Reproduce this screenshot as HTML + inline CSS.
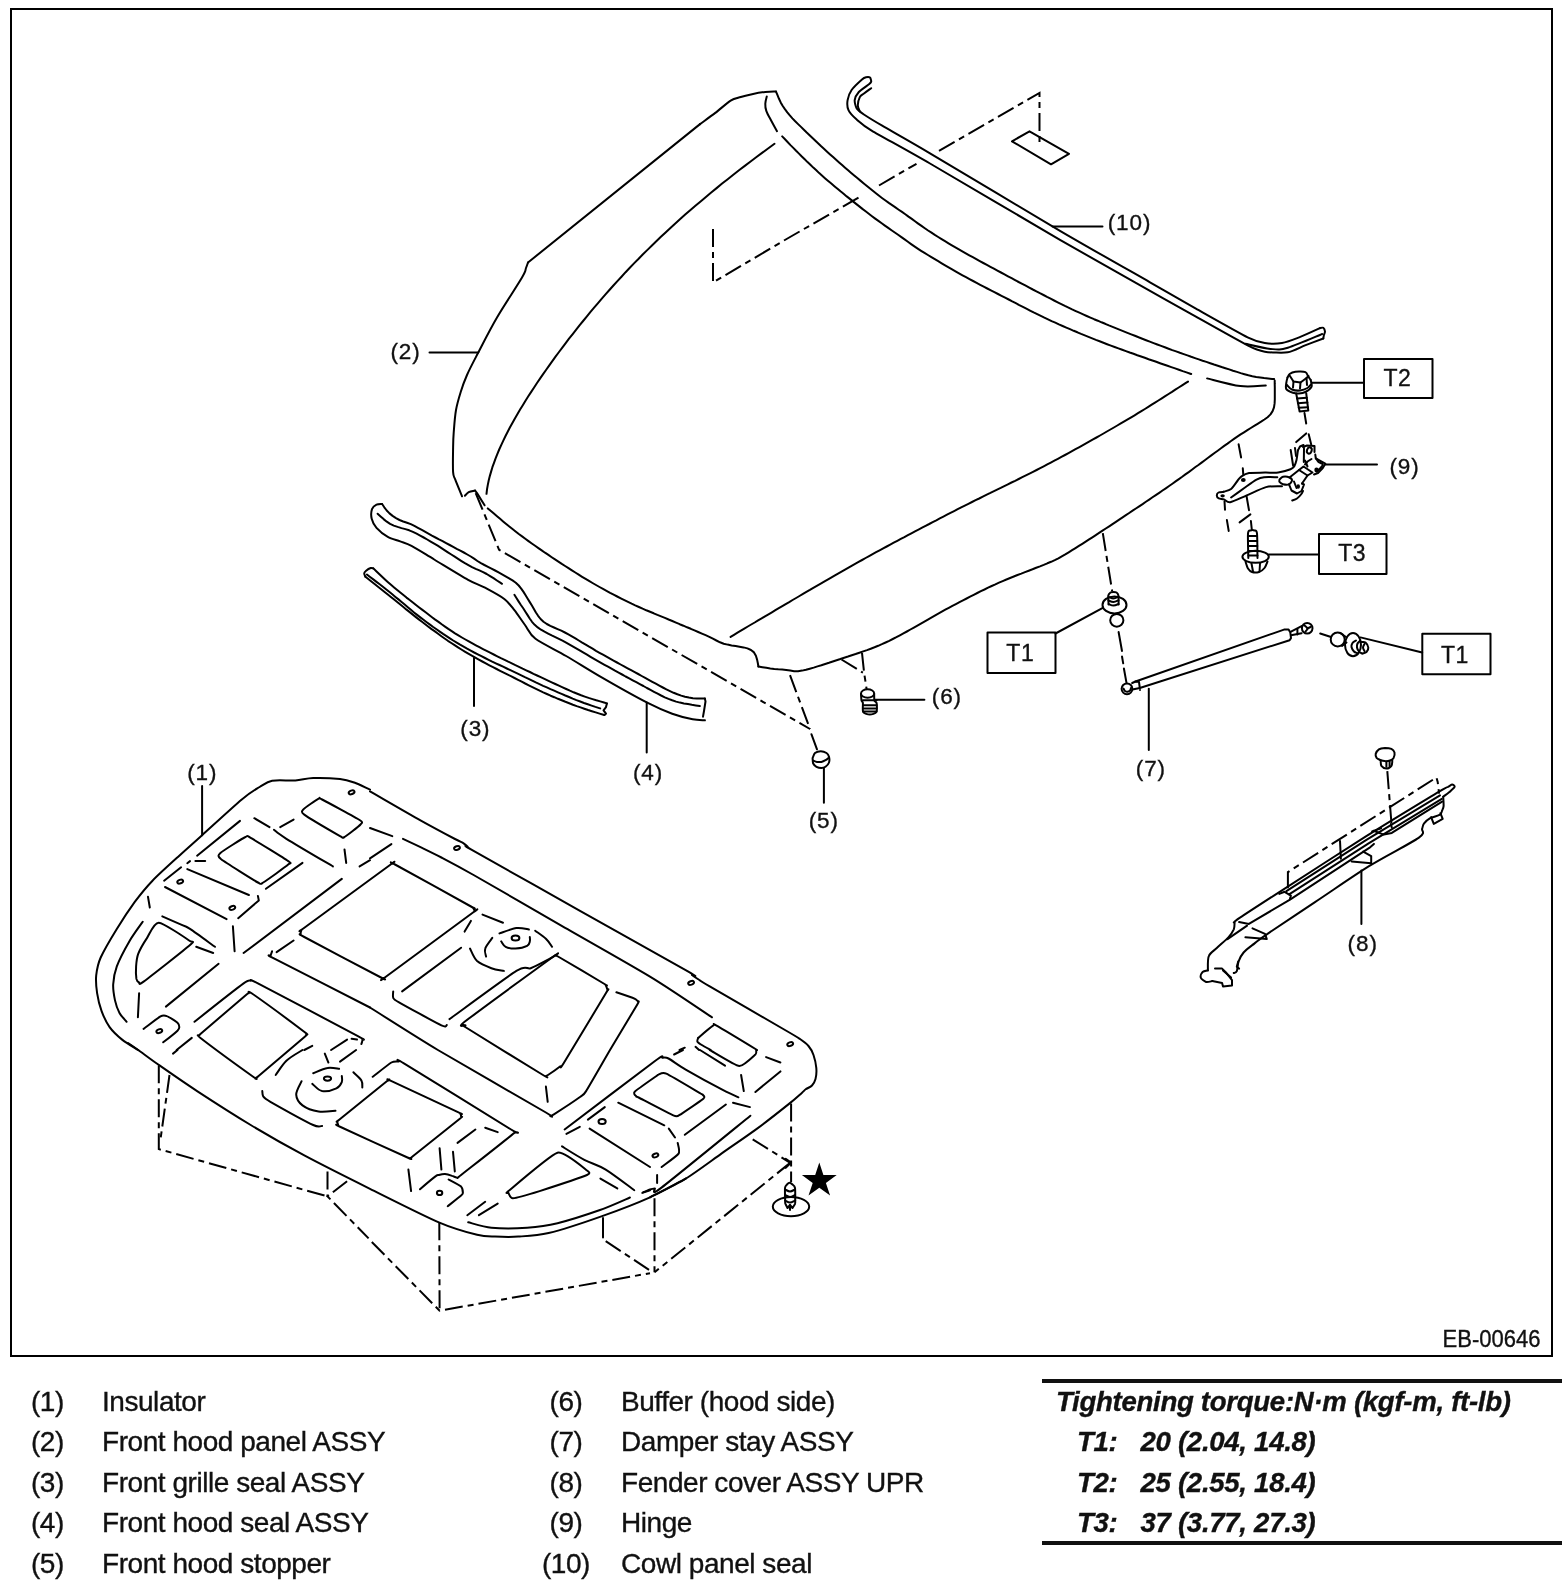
<!DOCTYPE html>
<html><head><meta charset="utf-8"><title>Front hood</title>
<style>
html,body{margin:0;padding:0;background:#fff;}
body{width:1568px;height:1592px;overflow:hidden;position:relative;font-family:"Liberation Sans",sans-serif;}
svg{position:absolute;left:0;top:0;will-change:transform;}
.l{fill:none;stroke:#000;stroke-width:2;stroke-linecap:round;stroke-linejoin:round;}
.d{fill:none;stroke:#000;stroke-width:2;stroke-dasharray:18 5 6 5;}
.f{fill:#000;stroke:none;}
.t text{font-family:"Liberation Sans",sans-serif;fill:#111;stroke:#111;stroke-width:0.35;}
</style></head><body>
<svg width="1568" height="1592" viewBox="0 0 1568 1592">
<rect x="11" y="9" width="1541" height="1347" fill="none" stroke="#000" stroke-width="2"/>
<g class="t" font-size="28" letter-spacing="-0.45">
<text x="31" y="1411">(1)</text><text x="102" y="1411">Insulator</text>
<text x="31" y="1451">(2)</text><text x="102" y="1451">Front hood panel ASSY</text>
<text x="31" y="1492">(3)</text><text x="102" y="1492">Front grille seal ASSY</text>
<text x="31" y="1532">(4)</text><text x="102" y="1532">Front hood seal ASSY</text>
<text x="31" y="1573">(5)</text><text x="102" y="1573">Front hood stopper</text>
<g text-anchor="middle">
<text x="566" y="1411">(6)</text><text x="566" y="1451">(7)</text><text x="566" y="1492">(8)</text><text x="566" y="1532">(9)</text><text x="566" y="1573">(10)</text>
</g>
<text x="621" y="1411">Buffer (hood side)</text>
<text x="621" y="1451">Damper stay ASSY</text>
<text x="621" y="1492">Fender cover ASSY UPR</text>
<text x="621" y="1532">Hinge</text>
<text x="621" y="1573">Cowl panel seal</text>
</g>
<rect x="1042" y="1379" width="520" height="4" fill="#111"/>
<rect x="1042" y="1541" width="520" height="4" fill="#111"/>
<g class="t" font-size="27.6" font-weight="bold" font-style="italic" letter-spacing="-0.3">
<text x="1056" y="1411">Tightening torque:N·m (kgf-m, ft-lb)</text>
<text x="1077" y="1451">T1:</text><text x="1140.5" y="1451">20 (2.04, 14.8)</text>
<text x="1077" y="1492">T2:</text><text x="1140.5" y="1492">25 (2.55, 18.4)</text>
<text x="1077" y="1532">T3:</text><text x="1140.5" y="1532">37 (3.77, 27.3)</text>
</g>
<g class="t" font-size="22" id="lbl">
<text x="1442.5" y="1347" font-size="23.5" textLength="98" lengthAdjust="spacingAndGlyphs">EB-00646</text>
</g>
<path class="l" d="M776 91.6 C774.4 91.6 768.9 91.5 765.3 91.9 C761.7 92.3 755.7 93.4 752 94.2 C748.3 95 744 96 740.8 97 C737.6 98 734.4 98.2 730.6 100.6 C726.8 103 719.9 109.4 715.3 112.9 C710.7 116.4 702.3 122.4 700 124.1"/>
<path class="l" d="M700 124.1 L528 262.5"/>
<path class="l" d="M528 262.5 C527.7 263.4 527 265.5 526 268 C525 270.5 526.8 269.2 522 277.5 C517.2 285.8 504.3 305 497 317.5 C489.7 330 483.3 342.9 478.3 352.5 C473.3 362.1 469.9 368.4 467 375 C464.1 381.6 462.5 386.2 460.7 392 C458.9 397.8 457.2 403.2 456 410 C454.8 416.8 454.2 426.3 453.7 432.6 C453.2 438.9 453.2 441.3 453.1 447.9 C453 454.5 452.7 466.8 453.1 472.1 C453.5 477.4 453.8 475.7 455.3 479.7 C456.8 483.7 460.9 493.5 462 496.3"/>
<path class="l" d="M464.9 495.7 C465.4 495.2 467.3 492.9 468.7 492.2 C470.1 491.5 474.2 490.8 475.1 490.6"/>
<path class="l" d="M475.1 490.6 L477 493.1 L484.6 505.3"/>
<path class="l" d="M487.8 508.4 L490.9 511 L493.9 513.6 L497 516.2 L500.1 518.8 L503.1 521.4 L506.2 524 L509.3 526.5 L512.5 529 L515.6 531.5 L518.8 534 L522.1 536.4 L525.3 538.8 L528.5 541.1 L531.8 543.5 L535.1 545.8 L538.4 548.1 L541.7 550.4 L545 552.7 L548.4 554.9 L551.7 557.2 L555 559.4 L558.4 561.6 L561.8 563.9 L565.1 566 L568.5 568.2 L571.9 570.4 L575.3 572.5 L578.7 574.7 L582.1 576.8 L585.6 578.9 L589 580.9 L592.5 583 L596 585 L599.5 587 L603 588.9 L606.5 590.8 L610.1 592.8 L613.6 594.6 L617.2 596.5 L620.8 598.3 L624.4 600.1 L628 601.9 L631.6 603.7 L635.2 605.4 L638.9 607 L642.6 608.7 L646.3 610.3 L650 611.8 L653.7 613.3 L657.4 614.9 L661.1 616.4 L664.9 617.9 L668.6 619.5 L672.3 621 L676 622.6 L679.7 624.2 L683.4 625.7 L687.1 627.3 L690.8 628.8 L694.5 630.4 L698.2 632 L701.9 633.6 L705.6 635.2 L709.3 636.8 L712.9 638.6 L716.4 640.5 L720 642.3 L723.7 643.7 L727.6 644.6 L731.6 645.4 L735.6 646 L739.5 646.7 L743.5 647.4 L747.4 648.4 L751 650 L754 652.4 L755.9 655.8 L757.1 659.6 L757.9 663.5 L758.4 666.5"/>
<path class="l" d="M758.4 666.5 L762.4 667.2 L766.3 667.8 L770.3 668.4 L774.3 668.9 L778.2 669.3 L782.2 669.6 L786.2 670 L790.2 670.6 L794.1 671.2 L798.1 671.2 L802.1 670.6 L806 669.7 L809.8 668.7 L813.7 667.6 L817.5 666.4 L821.4 665.3 L825.2 664 L829 662.8 L832.8 661.5 L836.6 660.2 L840.4 659 L844.2 657.7 L848 656.5 L851.8 655.2 L855.6 654 L859.4 652.7 L863.2 651.4 L867 650.1 L870.8 648.7 L874.5 647.3 L878.2 645.8 L881.9 644.2 L885.6 642.5 L889.2 640.8 L892.8 639 L896.4 637.2 L899.9 635.3 L903.4 633.4 L906.9 631.5 L910.4 629.5 L913.9 627.6 L917.4 625.6 L920.9 623.6 L924.4 621.6 L927.9 619.6 L931.3 617.6 L934.8 615.6 L938.3 613.7 L941.8 611.7 L945.3 609.7 L948.8 607.8 L952.4 605.9 L955.9 604.1 L959.5 602.2 L963 600.3 L966.6 598.5 L970.1 596.7 L973.7 594.8 L977.3 593 L980.9 591.2 L984.5 589.5 L988.1 587.7 L991.7 586 L995.4 584.4 L999 582.7 L1002.7 581.1 L1006.4 579.5 L1010.1 578 L1013.8 576.5 L1017.5 575 L1021.3 573.6 L1025 572.1 L1028.7 570.7 L1032.5 569.3 L1036.2 567.8 L1040 566.4 L1043.7 564.9 L1047.4 563.3 L1051.1 561.8 L1054.8 560.2 L1058.4 558.4 L1061.8 556.4 L1065.3 554.4 L1068.7 552.3 L1072.1 550.2 L1075.5 548.1 L1078.9 545.9 L1082.3 543.8 L1085.7 541.6 L1089.1 539.4 L1092.4 537.3 L1095.8 535.1 L1099.1 532.9 L1102.5 530.7 L1105.8 528.5 L1109.2 526.3 L1112.5 524.1 L1115.9 521.8 L1119.2 519.6 L1122.6 517.4 L1125.9 515.2 L1129.2 513 L1132.6 510.7 L1135.9 508.5 L1139.2 506.3 L1142.6 504.1 L1145.9 501.8 L1149.2 499.6 L1152.5 497.3 L1155.8 495.1 L1159.2 492.8 L1162.5 490.5 L1165.8 488.3 L1169.1 486 L1172.4 483.7 L1175.6 481.4 L1178.9 479.1 L1182.2 476.8 L1185.4 474.4 L1188.7 472.1 L1191.9 469.7 L1195.1 467.3 L1198.4 465 L1201.6 462.6 L1204.8 460.2 L1208.1 457.8 L1211.3 455.4 L1214.5 453 L1217.7 450.7 L1221 448.3 L1224.2 445.9 L1227.5 443.6 L1230.7 441.2 L1234 438.9 L1237.3 436.7 L1240.6 434.4 L1244 432.3 L1247.4 430.1 L1250.8 428 L1254.2 425.9 L1257.6 423.8 L1261.1 421.7 L1264.4 419.5 L1267.6 417.2 L1270.5 414.4 L1272.6 411.1 L1274 407.4 L1274.6 403.4 L1274.8 399.4 L1274.8 395.4 L1274.8 391.4 L1274.8 387.4 L1274.7 383.4 L1274.7 380.4"/>
<path class="l" d="M776 91.6 L777.5 95.2 L779 98.8 L780.7 102.4 L782.6 105.8 L784.9 109.1 L787.3 112.3 L789.8 115.4 L792.4 118.4 L795.2 121.3 L798.1 124.1 L801 126.9 L803.9 129.7 L806.7 132.5 L809.6 135.2 L812.5 138 L815.4 140.8 L818.3 143.5 L821.2 146.3 L824.2 149 L827.1 151.7 L830.1 154.4 L833.1 157.1 L836.1 159.8 L839.1 162.4 L842.1 165.1 L845.1 167.7 L848.1 170.3 L851.2 172.9 L854.2 175.5 L857.3 178.1 L860.4 180.6 L863.5 183.2 L866.6 185.7 L869.7 188.3 L872.8 190.8 L875.9 193.3 L879.1 195.8 L882.3 198.2 L885.5 200.5 L888.8 202.9 L892.1 205.1 L895.4 207.4 L898.7 209.7 L902 211.9 L905.3 214.2 L908.5 216.6 L911.8 218.9 L915 221.3 L918.2 223.6 L921.5 225.9 L924.8 228.2 L928.1 230.5 L931.5 232.7 L934.8 234.9 L938.2 237 L941.6 239.1 L945 241.2 L948.5 243.3 L951.9 245.3 L955.4 247.3 L958.9 249.3 L962.3 251.3 L965.8 253.3 L969.3 255.3 L972.8 257.2 L976.3 259.2 L979.8 261.1 L983.3 263 L986.9 264.9 L990.4 266.8 L993.9 268.7 L997.4 270.6 L1001 272.5 L1004.5 274.4 L1008 276.3 L1011.6 278.2 L1015.1 280.1 L1018.6 282 L1022.2 283.8 L1025.7 285.7 L1029.3 287.6 L1032.8 289.5 L1036.4 291.3 L1039.9 293.2 L1043.5 295 L1047 296.9 L1050.6 298.7 L1054.1 300.5 L1057.7 302.3 L1061.3 304.1 L1064.9 305.9 L1068.5 307.6 L1072.1 309.4 L1075.8 311.1 L1079.4 312.7 L1083.1 314.4 L1086.7 316 L1090.4 317.6 L1094.1 319.2 L1097.8 320.7 L1101.5 322.3 L1105.2 323.8 L1108.9 325.4 L1112.6 326.9 L1116.3 328.4 L1120 329.9 L1123.7 331.4 L1127.4 332.9 L1131.2 334.4 L1134.9 335.8 L1138.6 337.3 L1142.3 338.7 L1146.1 340.2 L1149.8 341.6 L1153.6 343.1 L1157.3 344.5 L1161.1 345.9 L1164.8 347.3 L1168.6 348.7 L1172.3 350.1 L1176.1 351.4 L1179.9 352.8 L1183.7 354.1 L1187.4 355.4 L1191.2 356.8 L1195 358.1 L1198.8 359.4 L1202.6 360.7 L1206.4 361.9 L1210.2 363.2 L1214 364.5 L1217.8 365.7 L1221.6 367 L1225.4 368.2 L1229.2 369.4 L1233 370.7 L1236.9 371.9 L1240.7 373.1 L1244.5 374.2 L1248.4 375.3 L1252.3 376.2 L1256.2 377 L1260.2 377.6 L1264.1 378.1 L1268.1 378.5 L1272.1 378.9 L1274.1 379.1"/>
<path class="l" d="M782.2 136.4 L785 139.3 L787.8 142.2 L790.5 145.1 L793.3 147.9 L796.1 150.8 L799 153.6 L801.8 156.5 L804.7 159.3 L807.5 162.1 L810.4 164.8 L813.3 167.6 L816.3 170.3 L819.2 173.1 L822.2 175.7 L825.2 178.4 L828.2 181 L831.3 183.6 L834.4 186.2 L837.5 188.7 L840.5 191.3 L843.6 193.8 L846.7 196.4 L849.9 198.9 L853 201.4 L856.1 203.9 L859.3 206.4 L862.4 208.9 L865.6 211.3 L868.8 213.7 L872 216.2 L875.2 218.6 L878.4 220.9 L881.7 223.3 L884.9 225.6 L888.2 227.9 L891.5 230.2 L894.8 232.5 L898.1 234.8 L901.4 237.1 L904.6 239.4 L907.9 241.8 L911.1 244.1 L914.4 246.4 L917.7 248.6 L921.1 250.8 L924.5 252.9 L927.9 255 L931.4 257.1 L934.8 259.2 L938.2 261.2 L941.7 263.3 L945.1 265.3 L948.6 267.3 L952.1 269.3 L955.5 271.3 L959 273.3 L962.5 275.3 L966 277.2 L969.5 279.1 L973.1 281 L976.6 282.9 L980.2 284.8 L983.7 286.6 L987.3 288.5 L990.9 290.3 L994.4 292.1 L998 294 L1001.5 295.8 L1005.1 297.7 L1008.7 299.5 L1012.2 301.4 L1015.8 303.2 L1019.3 305.1 L1022.9 306.9 L1026.4 308.7 L1030 310.6 L1033.6 312.4 L1037.2 314.1 L1040.8 315.9 L1044.4 317.7 L1048 319.4 L1051.6 321.1 L1055.3 322.7 L1058.9 324.4 L1062.6 326 L1066.3 327.6 L1070 329.2 L1073.7 330.8 L1077.4 332.3 L1081.1 333.9 L1084.8 335.4 L1088.5 336.9 L1092.2 338.4 L1095.9 339.9 L1099.6 341.3 L1103.4 342.8 L1107.1 344.2 L1110.9 345.6 L1114.6 347 L1118.4 348.4 L1122.2 349.8 L1125.9 351.1 L1129.7 352.5 L1133.5 353.8 L1137.3 355.2 L1141.1 356.5 L1144.8 357.8 L1148.6 359.2 L1152.4 360.5 L1156.2 361.8 L1160 363.2 L1163.7 364.5 L1167.5 365.8 L1171.3 367.1 L1175.1 368.4 L1178.9 369.7 L1182.7 371.1 L1186.5 372.4 L1190.3 373.7 L1191.2 374"/>
<path class="l" d="M1207.1 378.4 C1212.6 379.7 1230.5 384.9 1240.3 386.1 C1250.1 387.3 1261.5 385.6 1265.8 385.5"/>
<path class="l" d="M766.8 96.5 C766.5 97.7 765.4 101.3 765.3 103.7 C765.2 106.1 765.3 107.9 766.3 110.8 C767.3 113.7 769.6 117.6 771.4 121 C773.2 124.4 776.1 129.5 777 131.2"/>
<path class="l" d="M486.5 493.8 L487 489.4 L487.8 484.9 L488.7 480.5 L489.8 476.1 L491.1 471.6 L492.4 467.2 L494 462.8 L495.6 458.4 L497.4 453.9 L499.2 449.5 L501.2 445.1 L503.3 440.6 L505.4 436.2 L507.7 431.8 L510 427.3 L512.4 422.9 L514.9 418.5 L517.5 414 L520.1 409.6 L522.8 405.2 L525.5 400.7 L528.3 396.3 L531.2 391.9 L534.1 387.5 L537 383 L540 378.6 L543.1 374.2 L546.2 369.7 L549.3 365.3 L552.5 360.9 L555.7 356.4 L559 352 L562.3 347.6 L565.7 343.1 L569 338.7 L572.5 334.3 L576 329.9 L579.5 325.4 L583.1 321 L586.7 316.6 L590.3 312.1 L594.1 307.7 L597.8 303.3 L601.6 298.8 L605.5 294.4 L609.4 290 L613.4 285.5 L617.4 281.1 L621.5 276.7 L625.6 272.2 L629.8 267.8 L634 263.4 L638.4 259 L642.7 254.5 L647.2 250.1 L651.7 245.7 L656.3 241.2 L660.9 236.8 L665.6 232.4 L670.4 227.9 L675.3 223.5 L680.2 219.1 L685.2 214.6 L690.2 210.2 L695.4 205.8 L700.6 201.4 L705.9 196.9 L711.2 192.5 L716.6 188.1 L722.1 183.6 L727.7 179.2 L733.3 174.8 L739 170.3 L744.8 165.9 L750.6 161.5 L756.5 157 L762.4 152.6 L768.4 148.2 L774.5 143.8"/>
<path class="l" d="M730.6 636.9 L734 634.8 L737.5 632.7 L740.9 630.7 L744.3 628.6 L747.8 626.5 L751.2 624.5 L754.7 622.5 L758.1 620.4 L761.6 618.4 L765 616.3 L768.5 614.3 L771.9 612.3 L775.4 610.2 L778.8 608.2 L782.3 606.1 L785.7 604.1 L789.2 602.1 L792.6 600 L796.1 598 L799.5 596 L803 593.9 L806.4 591.9 L809.9 589.9 L813.3 587.8 L816.8 585.8 L820.3 583.8 L823.7 581.8 L827.2 579.8 L830.7 577.8 L834.1 575.8 L837.6 573.8 L841.1 571.8 L844.6 569.8 L848.1 567.8 L851.6 565.8 L855.1 563.9 L858.6 561.9 L862.1 560 L865.6 558 L869.1 556.1 L872.6 554.2 L876.1 552.2 L879.6 550.3 L883.2 548.4 L886.7 546.5 L890.2 544.6 L893.7 542.7 L897.3 540.8 L900.8 538.9 L904.4 537.1 L907.9 535.2 L911.4 533.3 L915 531.4 L918.5 529.6 L922.1 527.7 L925.6 525.8 L929.2 524 L932.7 522.1 L936.3 520.3 L939.8 518.4 L943.4 516.6 L947 514.7 L950.5 512.9 L954.1 511.1 L957.7 509.2 L961.2 507.4 L964.8 505.6 L968.4 503.8 L972 502 L975.6 500.2 L979.2 498.5 L982.8 496.7 L986.3 494.9 L989.9 493.2 L993.5 491.4 L997.1 489.6 L1000.7 487.9 L1004.3 486.1 L1007.9 484.3 L1011.5 482.5 L1015.1 480.8 L1018.7 479 L1022.3 477.2 L1025.9 475.4 L1029.5 473.6 L1033 471.8 L1036.6 470 L1040.2 468.1 L1043.7 466.3 L1047.3 464.4 L1050.8 462.6 L1054.4 460.7 L1057.9 458.8 L1061.4 456.9 L1065 455 L1068.5 453.1 L1072 451.1 L1075.5 449.2 L1079 447.3 L1082.5 445.3 L1086 443.4 L1089.5 441.4 L1093 439.4 L1096.5 437.5 L1100 435.5 L1103.5 433.5 L1106.9 431.5 L1110.4 429.5 L1113.9 427.5 L1117.3 425.5 L1120.8 423.4 L1124.3 421.4 L1127.7 419.4 L1131.2 417.3 L1134.6 415.3 L1138 413.2 L1141.4 411.1 L1144.9 409 L1148.3 406.9 L1151.7 404.7 L1155 402.6 L1158.4 400.5 L1161.8 398.3 L1165.2 396.2 L1168.6 394 L1172 391.9 L1175.3 389.7 L1178.7 387.5 L1182.1 385.4 L1185.5 383.2 L1188 381.6"/>
<path class="l" d="M429.5 352.5 L478.3 352.5"/>
<path class="d" d="M713 229 L713 282.5 L784 240.5"/>
<path class="d" d="M784 240.5 L861.5 195.8"/>
<path class="d" d="M879 185.5 L916.5 163.8"/>
<path class="d" d="M939 150.8 L1039.5 93 L1039.5 146.3"/>
<path class="l" d="M1012 141.3 L1029.5 131.3 L1069 153.8 L1051 164.3Z"/>
<path class="d" d="M475.7 493.1 L499.1 549.8 L810 729"/>
<path class="l" d="M1319.9 328.2 C1317.5 329.3 1303.6 335.7 1299.2 337.4 C1294.8 339.1 1286 342.4 1282 343.1 C1278 343.8 1268.8 343.8 1264.8 343.1 C1260.8 342.4 1255.6 341.4 1247.6 337.4 C1239.6 333.4 1207.3 315.1 1195.9 308.7 C1184.5 302.3 1165.9 291.4 1150 282.3 C1134.1 273.2 1085.7 245.9 1060 230.8 C1034.3 215.8 950.7 165.6 930 153.3 C909.3 141 889.9 130.2 882.2 125.7 C874.5 121.2 866.9 116.5 863.9 114.5 C860.9 112.5 857.8 110.1 856.7 108.4 C855.6 106.7 854.5 102.1 854.7 100.2 C854.9 98.3 857.1 93.9 858.8 92 C860.5 90.1 867.9 85.2 869.3 84 C870.7 82.8 871.1 82.2 871.2 81.5 C871.3 80.8 870.6 78.1 870 77.6 C869.4 77.1 866.9 77.1 866 77.3 C865.1 77.5 863.7 78 862 79.5 C860.3 81 853.3 87.6 851.6 90 C849.9 92.4 848 97.8 847.6 100.2 C847.2 102.6 847.5 108.1 848.6 110.4 C849.7 112.7 854 117.2 856.7 119.6 C859.4 122 863.4 125.7 872 130.8 C880.6 135.9 908.1 150.8 930 163.5 C951.9 176.2 1034.3 224.9 1060 239.8 C1085.7 254.7 1134.1 281.9 1150 290.9 C1165.9 299.9 1184.5 310.3 1195.9 316.7 C1207.3 323.1 1239.6 341.3 1247.6 345.4 C1255.6 349.5 1260.1 350.9 1264.8 351.7 C1269.5 352.5 1283.1 353 1287.8 352.3 C1292.5 351.6 1300.9 347 1305 345.4 C1309.1 343.8 1321.2 339.3 1323.3 338.5"/>
<path class="l" d="M871.2 88.2 C870 89.1 865.9 92 864 93.5 C862.1 95 860.8 95.1 859.8 97.1 C858.8 99.1 857.8 102.9 857.8 105.3 C857.8 107.7 859.5 110.4 859.8 111.4"/>
<path class="l" d="M1319.9 328.2 C1320.4 328.1 1322.6 327.3 1323.3 327.8 C1324 328.3 1324.9 330.7 1325 331.7 C1325.1 332.7 1324.1 334.2 1323.9 335.1 C1323.7 336 1323.4 338 1323.3 338.5"/>
<path class="l" d="M1245.3 343.7 C1249.5 344.6 1263.4 348.2 1270.5 348.9 C1277.6 349.6 1279.2 350.2 1287.8 347.7 C1296.4 345.2 1316.5 336.3 1322.2 334"/>
<path class="l" d="M1052.5 226.5 L1102.5 226.5"/>
<path class="l" d="M382.1 504 L384.3 507.3 L386.7 510.5 L389.5 513.4 L392.6 515.9 L396 518.1 L399.5 520 L403.2 521.5 L407 522.7 L410.8 524.1 L414.4 525.9 L417.9 527.8 L421.4 529.7 L424.9 531.7 L428.4 533.6 L431.9 535.6 L435.5 537.5 L439 539.4 L442.6 541.2 L446.1 543.1 L449.7 545 L453.2 546.9 L456.7 548.8 L460.3 550.6 L463.8 552.5 L467.3 554.5 L470.8 556.5 L474.1 558.7 L477.4 561 L480.9 563.1 L484.4 565 L488 566.8 L491.5 568.6 L495.1 570.5 L498.6 572.4 L502.1 574.3 L505.6 576.3 L509.1 578.3 L512.5 580.4 L515.8 582.7 L518.7 585.5 L521.2 588.6 L523.5 591.9 L525.6 595.3 L527.7 598.7 L529.8 602.1 L531.9 605.5 L533.9 609 L535.9 612.5 L538.1 615.8 L540.6 619 L543.5 621.7 L546.8 624 L550.3 625.9 L554 627.5 L557.6 629.1 L561.3 630.7 L564.9 632.5 L568.4 634.4 L571.9 636.4 L575.4 638.4 L578.8 640.5 L582.2 642.6 L585.7 644.6 L589.1 646.7 L592.6 648.7 L596 650.8 L599.5 652.8 L603 654.7 L606.5 656.7 L610 658.7 L613.5 660.6 L617 662.5 L620.6 664.5 L624.1 666.4 L627.6 668.3 L631.1 670.2 L634.7 672.1 L638.2 674 L641.7 676 L645.2 677.9 L648.7 679.8 L652.3 681.8 L655.8 683.7 L659.3 685.6 L662.8 687.5 L666.4 689.4 L670 691.1 L673.6 692.8 L677.4 694.3 L681.2 695.6 L685 696.7 L688.9 697.5 L692.9 698.2 L696.9 698.5 L700.9 698.6 L704.9 698.6"/>
<path class="l" d="M377.6 513.7 L380.6 516.4 L383.6 519.1 L386.8 521.7 L390.1 523.9 L393.8 525.6 L397.6 526.9 L401.5 528.1 L405.4 529.1 L409.2 530.3 L412.9 531.9 L416.6 533.7 L420.2 535.6 L423.7 537.5 L427.2 539.5 L430.7 541.6 L434.2 543.6 L437.7 545.7 L441.1 547.9 L444.5 550.1 L447.9 552.3 L451.3 554.5 L454.7 556.7 L458.1 558.9 L461.5 561.1 L464.9 563.2 L468.4 565.2 L472 567.2 L475.7 568.9 L479.4 570.4 L483.1 572.1 L486.7 574 L490.1 576.1 L493.5 578.2 L496.9 580.5 L500.3 582.7 L502 583.8"/>
<path class="l" d="M514.4 594.8 L516.6 598.2 L518.7 601.6 L520.9 605 L523.2 608.3 L525.4 611.7 L527.6 615.1 L529.7 618.5 L532 621.8 L534.7 624.8 L537.7 627.4 L541 629.7 L544.5 631.7 L548.1 633.6 L551.7 635.4 L555.3 637.1 L558.9 638.9 L562.5 640.7 L566.1 642.6 L569.6 644.6 L573.1 646.6 L576.6 648.6 L580.1 650.7 L583.5 652.7 L587 654.7 L590.5 656.8 L594 658.8 L597.5 660.8 L601 662.8 L604.5 664.8 L608 666.7 L611.5 668.7 L615 670.7 L618.6 672.6 L622.1 674.5 L625.6 676.5 L629.2 678.4 L632.7 680.3 L636.3 682.2 L639.8 684.1 L643.4 686 L646.9 688 L650.5 689.9 L654 691.8 L657.6 693.7 L661.1 695.5 L664.8 697.3 L668.5 698.9 L672.2 700.3 L676.1 701.6 L680 702.6 L683.9 703.4 L687.9 704.1 L691.8 704.8 L695.8 705.4 L699.8 706"/>
<path class="l" d="M382.1 504 C381.3 504.1 378 503.8 376.5 504.6 C375 505.4 372.7 507 372 509.1 C371.3 511.2 371 515.9 371.7 518.7 C372.4 521.5 374.1 525.1 376.5 527.8 C378.9 530.5 384.2 534.8 387.8 536.8 C391.4 538.8 396.6 540 400.2 541.4 C403.8 542.8 406.4 543.2 411.5 545.9 C416.6 548.6 425.7 554.4 434.2 559.5 C442.7 564.6 460.5 575.6 468.1 579.8 C475.7 584 479.6 584.8 485 587.7 C490.4 590.6 499.9 595.6 504.3 599 C508.7 602.4 511.3 606.2 514.4 610.1 C517.5 614 521.8 620.7 525 625 C528.2 629.3 529.3 634.1 535.5 638.8 C541.7 643.4 556.3 650.3 566.1 656 C575.9 661.7 588.7 669.9 600.8 676.9 C612.9 683.9 636 696.9 646.7 702.4 C657.4 707.9 665.3 711.2 672.2 713.7 C679.1 716.2 687.8 718.3 692.7 719.3 C697.6 720.3 703.1 720.1 704.9 720.3"/>
<path class="l" d="M704.9 698.6 L705.5 701.5 L704 711 L703 716.7"/>
<path class="l" d="M373.4 568.4 L376.3 571.2 L379.2 574 L382.1 576.8 L385 579.5 L388 582.2 L391 584.8 L394.1 587.4 L397.2 590 L400.3 592.5 L403.4 595 L406.5 597.6 L409.7 600 L412.9 602.5 L416 605 L419.2 607.5 L422.4 609.9 L425.6 612.3 L428.8 614.8 L432 617.2 L435.2 619.6 L438.5 621.9 L441.7 624.3 L445 626.6 L448.3 628.9 L451.7 631.1 L455 633.3 L458.4 635.4 L461.9 637.5 L465.4 639.5 L468.8 641.4 L472.4 643.4 L475.9 645.3 L479.4 647.2 L483 649.1 L486.6 650.9 L490.1 652.7 L493.7 654.5 L497.3 656.3 L500.9 658.1 L504.6 659.8 L508.2 661.6 L511.8 663.3 L515.4 665.1 L519 666.8 L522.6 668.6 L526.2 670.3 L529.9 672 L533.5 673.8 L537.1 675.5 L540.7 677.2 L544.4 678.9 L548 680.6 L551.7 682.3 L555.3 684 L558.9 685.7 L562.6 687.4 L566.2 689 L569.9 690.7 L573.6 692.3 L577.3 693.8 L581.1 695.3 L584.8 696.6 L588.6 697.9 L592.5 699.1 L596.3 700.3 L600.2 701.4 L604 702.5 L606.9 703.4"/>
<path class="l" d="M366.9 574.5 L370.1 577 L373.3 579.4 L376.5 581.9 L379.7 584.3 L382.9 586.8 L386 589.3 L389.2 591.8 L392.3 594.3 L395.4 596.9 L398.5 599.4 L401.6 602 L404.7 604.6 L407.8 607.2 L410.9 609.8 L414 612.4 L417.1 614.9 L420.3 617.4 L423.5 619.8 L426.7 622.2 L430 624.6 L433.2 627 L436.5 629.3 L439.8 631.6 L443.1 633.9 L446.5 636.1 L449.9 638.3 L453.2 640.5 L456.7 642.6 L460.1 644.7 L463.6 646.7 L467.1 648.7 L470.7 650.6 L474.2 652.5 L477.8 654.3 L481.4 656.2 L485 658 L488.6 659.8 L492.2 661.6 L495.8 663.3 L499.5 665 L503.1 666.7 L506.8 668.5 L510.4 670.2 L514 671.9 L517.7 673.7 L521.3 675.4 L524.9 677.2 L528.6 678.9 L532.2 680.6 L535.8 682.4 L539.5 684.1 L543.1 685.8 L546.8 687.4 L550.5 689.1 L554.2 690.7 L557.9 692.3 L561.6 693.9 L565.3 695.5 L569 697 L572.7 698.6 L576.4 700.1 L580.2 701.5 L584 703 L587.8 704.3 L591.6 705.6 L595.4 706.9 L599.2 708.1 L600.2 708.4"/>
<path class="l" d="M365.4 576.8 L368.6 579.3 L371.7 581.8 L374.9 584.3 L378 586.7 L381.2 589.2 L384.3 591.7 L387.5 594.2 L390.6 596.7 L393.8 599.2 L396.9 601.8 L400 604.3 L403.1 606.8 L406.2 609.4 L409.4 611.9 L412.5 614.4 L415.6 616.9 L418.8 619.4 L422 621.8 L425.2 624.2 L428.4 626.7 L431.6 629.1 L434.9 631.4 L438.1 633.8 L441.4 636.2 L444.6 638.5 L447.9 640.8 L451.3 643 L454.6 645.2 L458 647.4 L461.4 649.5 L464.8 651.6 L468.3 653.7 L471.8 655.7 L475.3 657.7 L478.8 659.6 L482.3 661.5 L485.8 663.4 L489.4 665.3 L493 667.1 L496.6 669 L500.1 670.8 L503.7 672.6 L507.3 674.4 L510.9 676.2 L514.5 678 L518.1 679.8 L521.7 681.6 L525.2 683.5 L528.8 685.3 L532.4 687.1 L536 688.9 L539.6 690.7 L543.2 692.4 L546.9 694 L550.6 695.7 L554.3 697.2 L558 698.8 L561.7 700.3 L565.4 701.8 L569.2 703.2 L572.9 704.7 L576.7 706.1 L580.5 707.4 L584.3 708.7 L588.1 710 L591.9 711.2 L595.7 712.4 L599.6 713.6 L603.4 714.7 L604.4 715"/>
<path class="l" d="M373.4 568.4 C372.9 568.3 371.9 567.6 370.7 568 C369.5 568.4 367.2 569.8 366.1 570.7 C365 571.6 364.3 572.4 364.2 573.4 C364.1 574.4 365.2 576.2 365.4 576.8"/>
<path class="l" d="M606.9 703.4 L606 707.1 L603.5 710.4 L606 713.7 L604.4 715"/>
<path class="l" d="M474 657.5 L474 706"/>
<path class="l" d="M646.7 702.4 L646.7 752.5"/>
<path class="d" d="M790 675.2 L810.1 729.2"/>
<path class="l" d="M811.4 734.2 L817 749.3"/>
<path class="l" d="M812.6 758.1 C813 757.3 813.8 754 815 753 C816.2 752 819.1 751.2 820.8 751.2 C822.5 751.2 825.3 752.2 826.5 753 C827.7 753.8 828.6 755.4 829 756.8 C829.4 758.2 829.5 761 829 762.5 C828.5 764 826.6 766 825.5 766.8 C824.4 767.6 822.8 768.1 821.4 768.1 C820 768.1 817.7 767.5 816.5 766.8 C815.3 766.1 813.8 764.8 813.2 763.5 C812.6 762.2 812.7 758.9 812.6 758.1"/>
<path class="l" d="M813.2 760.6 C813.8 760.8 815.6 761.7 817 761.9 C818.4 762.1 820 762.2 821.4 761.9 C822.8 761.6 824.4 760.8 825.5 760.2 C826.6 759.6 827.8 758.5 828.3 758.1"/>
<path class="l" d="M823.9 768.1 L823.9 802.7"/>
<path class="d" d="M862 652.8 L864.1 672.7 L866.6 689"/>
<path class="d" d="M841.5 659.5 L862.9 672.7"/>
<ellipse class="l" cx="867.6" cy="693.5" rx="6.6" ry="4.2" transform="rotate(0 867.6 693.5)"/>
<path class="l" d="M861 694 C861.1 694.9 861.2 699.3 861.5 700.5 C861.8 701.7 862.7 701.5 862.9 703 C863.1 704.5 862.3 710.5 863.2 712 C864.1 713.5 868 714.6 869.8 714.6 C871.6 714.6 875.5 713.5 876.4 712 C877.3 710.5 876.9 704.5 876.6 703 C876.3 701.5 874.7 701.7 874.4 700.5 C874.1 699.3 874.2 694.9 874.2 694"/>
<path class="l" d="M863.2 705.3 L876.5 705.3"/>
<path class="l" d="M863.2 708.5 L876.5 708.5"/>
<path class="l" d="M863.2 711.5 L876.5 711.5"/>
<path class="l" d="M862.9 700.3 L876.6 700.3"/>
<path class="l" d="M875.4 699.7 L924.4 699.7"/>
<path class="l" d="M1287.5 377.5 C1287.8 377 1288.5 374.8 1289.6 374 C1290.7 373.2 1293.3 372 1295.4 371.7 C1297.5 371.4 1303.7 371.4 1305.4 372.1 C1307.1 372.8 1307.6 375.5 1308.3 376.6 C1309 377.7 1310.4 379.5 1310.7 380"/>
<path class="l" d="M1287.5 377.5 C1287.3 378.2 1286.5 381.5 1286.3 383 C1286.1 384.5 1285.4 387.8 1286.3 389.1 C1287.2 390.4 1291.2 392.2 1292.9 392.8 C1294.6 393.4 1297.3 393.6 1299 393.5 C1300.7 393.4 1303.7 392.9 1305.4 392 C1307.1 391.1 1310.9 388.2 1311.6 386.6 C1312.3 385 1310.8 380.9 1310.7 380"/>
<path class="l" d="M1289.6 375.5 L1293.5 381.5 L1300.5 382.5 L1306.5 378 L1308.5 376"/>
<path class="l" d="M1293.5 381.5 L1293 387.5"/>
<path class="l" d="M1300.5 382.5 L1300 388.5"/>
<path class="l" d="M1306.5 378 L1307 385"/>
<path class="l" d="M1287 385 C1287.8 385.8 1289.8 388.6 1292 389.5 C1294.2 390.4 1297.4 390.8 1300 390.5 C1302.6 390.2 1305.7 389 1307.5 388 C1309.3 387 1310.4 385.1 1311 384.5"/>
<path class="l" d="M1296.2 393.5 L1299.6 411.5 L1308.3 410.6 L1306.2 393.2"/>
<path class="l" d="M1297 398.5 L1306.8 397.8"/>
<path class="l" d="M1297.9 403.3 L1307.4 402.6"/>
<path class="l" d="M1298.7 407.8 L1307.9 407.2"/>
<path class="l" d="M1311.6 382.7 L1363.7 382.7"/>
<rect class="l" x="1364" y="359" width="68.5" height="39"/>
<path class="l" d="M1304.5 413.1 L1306.2 423.5"/>
<path class="l" d="M1296.2 442.1 L1306.2 433.4"/>
<path class="l" d="M1308.7 434.3 L1311.2 444.6"/>
<path class="l" d="M1238.6 444.2 L1241.1 457.5"/>
<path class="l" d="M1242.8 468.3 L1243.3 474.9"/>
<path class="l" d="M1223.6 491.8 C1224.6 491.4 1229.2 490.5 1231.1 489 C1233 487.5 1236.3 482.2 1237.7 480.5 C1239.1 478.8 1240 477.3 1241.5 476.3 C1243 475.3 1245.9 473.5 1249 473 C1252.1 472.5 1261.1 472.7 1265 472.6 C1268.9 472.5 1274.8 473 1278.2 472.5 C1281.6 472 1288.4 470 1290.5 469.2 C1292.6 468.4 1293.4 467.6 1294.2 466.4 C1295 465.2 1296 462.1 1296.5 460 C1297 457.9 1297.7 451.7 1297.9 450.4"/>
<path class="l" d="M1223.6 491.8 C1222.9 491.9 1219.4 492 1218.5 492.5 C1217.6 493 1216.8 494.7 1216.8 495.5 C1216.8 496.3 1217.8 497.9 1218.8 498.4 C1219.8 498.9 1222.5 498.9 1224 499.4 C1225.5 499.9 1227.2 502.7 1230.2 502.2 C1233.2 501.7 1241.4 497.6 1246.2 495.6 C1251 493.6 1261.2 488.4 1266 487.1 C1270.8 485.8 1279.9 486.3 1282 486.2"/>
<path class="l" d="M1231.1 497.5 C1232.9 496.2 1240.9 490.4 1244.3 488 C1247.7 485.6 1253.9 481 1256.5 479.6 C1259.1 478.2 1261.3 477.5 1264.1 477.2 C1266.9 476.9 1275.5 477.2 1277.3 477.2"/>
<ellipse class="f" cx="1222.6" cy="495.8" rx="2.2" ry="1.6" transform="rotate(0 1222.6 495.8)"/>
<ellipse class="f" cx="1243.3" cy="480" rx="2.4" ry="2" transform="rotate(0 1243.3 480)"/>
<path class="l" d="M1279.5 479.5 C1280 479.1 1281.7 477.1 1283 476.8 C1284.3 476.5 1288.3 477 1289.5 477.5 C1290.7 478 1292.1 479.6 1292 480.5 C1291.9 481.4 1290.2 483.8 1289 484.3 C1287.8 484.8 1284.3 484.5 1283 484.2 C1281.7 483.9 1280 482.4 1279.5 481.8 C1279 481.2 1279.5 479.8 1279.5 479.5"/>
<path class="l" d="M1289.5 477.5 L1299 470 L1307.5 475.5 L1302 483.5"/>
<path class="l" d="M1299 470 L1303.5 466.5 L1312.5 472.5 L1307.5 475.5"/>
<path class="l" d="M1289 484.3 L1291.5 490.5 L1297 493.5 L1301.5 491 L1304 484.5 L1302 483.5"/>
<path class="l" d="M1294 481.5 L1296.5 488"/>
<ellipse class="f" cx="1298.2" cy="486.5" rx="1.8" ry="2.2" transform="rotate(0 1298.2 486.5)"/>
<path class="l" d="M1292.2 500.5 C1293 500.2 1295.5 499.5 1297 498.5 C1298.5 497.5 1300 495.8 1301 494.5 C1302 493.2 1302.7 491.6 1303 491"/>
<path class="l" d="M1297.9 450.4 L1300 446.5 L1303.5 445 L1304 449 L1303.8 462"/>
<path class="l" d="M1303 447 L1307 445.5 L1314.5 446 L1314.5 452"/>
<ellipse class="l" cx="1309.3" cy="450.5" rx="2.3" ry="3.2" transform="rotate(20 1309.3 450.5)"/>
<path class="l" d="M1305 464.5 L1307.5 461.5 L1311.5 459"/>
<path class="l" d="M1305 460.5 L1307.5 466.5"/>
<path class="l" d="M1315.3 454.6 L1315.8 458.5 L1325.3 463.7 L1322.8 468 L1318 473 L1314 474.5"/>
<path class="l" d="M1316.2 458.5 C1316.6 459.1 1317.4 461 1318.5 462 C1319.6 463 1322.6 463.3 1322.8 464.5 C1323 465.7 1320.5 467.8 1319.5 469 C1318.5 470.2 1317 471.1 1316.5 471.5"/>
<ellipse class="f" cx="1316.5" cy="470" rx="2.2" ry="2.4" transform="rotate(0 1316.5 470)"/>
<path class="l" d="M1290.7 450 L1293.1 465.5"/>
<path class="l" d="M1295 448 L1296 456"/>
<path class="l" d="M1325.3 464.5 L1377 464.5"/>
<path class="l" d="M1224.5 501.2 L1225 509.7"/>
<path class="l" d="M1226.9 520.1 L1228.7 530.9"/>
<path class="l" d="M1246.6 496.5 L1249 510.2"/>
<path class="l" d="M1239.6 522.4 L1250.4 514.4"/>
<path class="l" d="M1250.9 521 L1251.8 529.5"/>
<path class="l" d="M1248.3 558 C1248.3 554.7 1247.7 537.2 1248 533.5 C1248.3 529.8 1249.6 530.9 1250.5 530.5 C1251.4 530.1 1253.6 530.1 1254.5 530.5 C1255.4 530.9 1256.6 529.8 1257 533.5 C1257.4 537.2 1257.4 554.7 1257.5 558"/>
<path class="l" d="M1248.2 536 L1257 536"/>
<path class="l" d="M1248.2 541 L1257.2 541"/>
<path class="l" d="M1248.3 546 L1257.3 546"/>
<path class="l" d="M1248.3 551 L1257.4 551"/>
<path class="l" d="M1248.5 555.5 L1257.5 555.5"/>
<ellipse class="l" cx="1255.6" cy="556.8" rx="13.2" ry="6" transform="rotate(0 1255.6 556.8)"/>
<path class="l" d="M1245.5 561.5 C1245.8 562.4 1247.1 567.1 1248 568.5 C1248.9 569.9 1250.5 571.5 1252 572 C1253.5 572.5 1257.3 572.5 1259 572 C1260.7 571.5 1263.4 569.4 1264.5 568 C1265.6 566.6 1267.1 562.4 1267.5 561.5"/>
<path class="l" d="M1251.5 563.5 L1253 571.5"/>
<path class="l" d="M1260 563.5 L1259.5 571.5"/>
<path class="l" d="M1268.8 554.5 L1318.7 554.5"/>
<rect class="l" x="1319" y="534" width="67.5" height="40"/>
<path class="d" d="M1102.8 533.2 L1112.2 591.3"/>
<path class="l" d="M1108.6 604.5 C1108.6 603.3 1108 597.1 1108.3 595.5 C1108.6 593.9 1109.8 593 1110.5 592.5 C1111.2 592 1112.6 592 1113.4 592 C1114.2 592 1115.8 592 1116.5 592.5 C1117.2 593 1118.1 593.9 1118.4 595.5 C1118.7 597.1 1118.6 603.3 1118.6 604.5"/>
<path class="l" d="M1108.5 597 C1109.3 597.2 1111.8 598.5 1113.5 598.5 C1115.2 598.5 1117.7 597.1 1118.5 596.8"/>
<path class="l" d="M1108.5 600.5 C1109.3 600.8 1111.8 602 1113.5 602 C1115.2 602 1117.7 600.6 1118.5 600.3"/>
<path class="l" d="M1108.6 604 C1109.4 604.3 1111.8 605.6 1113.5 605.6 C1115.2 605.6 1117.8 604.3 1118.6 604"/>
<ellipse class="l" cx="1114.5" cy="604.9" rx="12" ry="8.5" transform="rotate(0 1114.5 604.9)"/>
<ellipse class="l" cx="1116.8" cy="620.3" rx="6.6" ry="6.4" transform="rotate(0 1116.8 620.3)"/>
<path class="l" d="M1055.5 633.5 L1102.8 607.9"/>
<rect class="l" x="987.5" y="632.5" width="68" height="40.5"/>
<path class="l" d="M1118.6 632 L1122 651"/>
<path class="l" d="M1122 656.5 L1123.2 663.3"/>
<path class="l" d="M1123.9 668.5 L1126.5 682.9"/>
<circle class="l" cx="1127" cy="688.8" r="5.4"/>
<path class="l" d="M1123.5 688.5 C1123.8 688.9 1124.3 690.5 1125 691 C1125.7 691.5 1126.7 691.9 1127.5 691.8 C1128.3 691.7 1129.4 691.1 1130 690.5 C1130.6 689.9 1130.8 688.4 1131 688"/>
<path class="l" d="M1132.2 683 L1135.5 681.5 L1139 682 L1139.8 688 L1132.5 689.5"/>
<path class="l" d="M1135.5 681.5 L1284 629.6 L1288.6 629.6 L1290.3 632.4 L1291 638.1 L1289.6 640.2 L1139.8 688"/>
<path class="l" d="M1140 690 L1140 690"/>
<path class="l" d="M1291 631.7 L1301.6 626.1"/>
<path class="l" d="M1291 635.3 L1301.6 633.2"/>
<path class="l" d="M1297.4 629 L1297.4 634.5"/>
<circle class="l" cx="1307.2" cy="628.2" r="5.3"/>
<path class="l" d="M1304.5 625.5 C1305 626 1307.3 627.5 1307.5 628.5 C1307.7 629.5 1305.8 631 1305.5 631.5"/>
<path class="l" d="M1307.5 628.5 L1310.5 627"/>
<path class="l" d="M1148.8 688.8 L1148.8 750"/>
<path class="l" d="M1320.2 633.5 L1331 637"/>
<circle class="l" cx="1337.7" cy="639.4" r="7"/>
<path class="l" d="M1341 633.5 L1346 637"/>
<path class="l" d="M1342 646 L1346.5 642.5"/>
<ellipse class="l" cx="1353" cy="644.7" rx="8" ry="11.6" transform="rotate(0 1353 644.7)"/>
<path class="l" d="M1356 640.5 C1355.4 640.9 1353.2 641.9 1352.5 643 C1351.8 644.1 1351.2 645.6 1351.5 647 C1351.8 648.4 1353.1 650.5 1354 651.5 C1354.9 652.5 1356.5 652.8 1357 653"/>
<path class="l" d="M1360 640.8 C1359.6 641.2 1358 642.4 1357.5 643.5 C1357 644.6 1356.8 646.2 1357 647.5 C1357.2 648.8 1358.2 650.5 1359 651.5 C1359.8 652.5 1361.5 653.2 1362 653.5"/>
<path class="l" d="M1361.5 642 C1362.2 642.1 1364.4 641.6 1365.5 642.5 C1366.6 643.4 1368.1 645.9 1368.3 647.5 C1368.5 649.1 1367.5 651 1366.5 652 C1365.5 653 1363.2 653.2 1362.5 653.5"/>
<path class="l" d="M1364.5 644 C1364.2 644.6 1363 646.3 1363 647.5 C1363 648.7 1364.2 650.4 1364.5 651"/>
<path class="l" d="M1360.5 637.4 L1422.2 652.5"/>
<rect class="l" x="1422.3" y="633.8" width="68.2" height="40.5"/>
<g class="t">
<text x="405.5" y="359" font-size="22.5" text-anchor="middle" letter-spacing="0.9">(2)</text>
<text x="1129.5" y="229.5" font-size="22.5" text-anchor="middle" letter-spacing="0.9">(10)</text>
<text x="1404.5" y="474" font-size="22.5" text-anchor="middle" letter-spacing="0.9">(9)</text>
<text x="946.9" y="704" font-size="22.5" text-anchor="middle" letter-spacing="0.9">(6)</text>
<text x="823.8" y="828" font-size="22.5" text-anchor="middle" letter-spacing="0.9">(5)</text>
<text x="1150.9" y="776" font-size="22.5" text-anchor="middle" letter-spacing="0.9">(7)</text>
<text x="1362.7" y="951" font-size="22.5" text-anchor="middle" letter-spacing="0.9">(8)</text>
<text x="475.4" y="736" font-size="22.5" text-anchor="middle" letter-spacing="0.9">(3)</text>
<text x="648" y="779.5" font-size="22.5" text-anchor="middle" letter-spacing="0.9">(4)</text>
<text x="202.3" y="779.5" font-size="22.5" text-anchor="middle" letter-spacing="0.9">(1)</text>
<text x="1397.4" y="385.9" font-size="23" text-anchor="middle" letter-spacing="0.6">T2</text>
<text x="1352.2" y="560.5" font-size="23" text-anchor="middle" letter-spacing="0.6">T3</text>
<text x="1020.3" y="661" font-size="23" text-anchor="middle" letter-spacing="0.6">T1</text>
<text x="1455" y="662.5" font-size="23" text-anchor="middle" letter-spacing="0.6">T1</text>
</g>
<path class="l" d="M1380.2 760 C1379.6 759.7 1377.3 758.8 1376.6 757.9 C1375.9 756.9 1375.4 755.2 1375.7 753.9 C1376.1 752.6 1377.5 750.2 1378.9 749.3 C1380.3 748.4 1383.1 748.1 1385 748 C1386.9 748 1390 748.3 1391.4 748.9 C1392.8 749.6 1394.1 751.2 1394.5 752.5 C1394.8 753.8 1394.2 756.7 1393.6 757.9 C1392.9 759.1 1391.3 760.1 1390 760.5 C1388.7 761 1386.1 761.2 1384.6 761.1 C1383.2 761 1380.8 760.2 1380.2 760"/>
<path class="l" d="M1380.7 760.5 C1380.8 761.4 1380.5 764.6 1381.4 765.9 C1382.4 767.2 1384.8 768.6 1386.4 768.6 C1388.1 768.6 1390.4 767.3 1391.4 765.9 C1392.4 764.5 1392.2 761 1392.3 760"/>
<path class="l" d="M1386.4 761.8 L1386.4 766.8"/>
<path class="l" d="M1389.6 761.1 L1389.6 766.8"/>
<path class="d" d="M1387.3 771.2 L1391.8 827.5"/>
<path class="d" d="M1287.9 888.2 L1287.9 872.1 L1436.4 777.5 L1437.7 782 L1439.1 793.6"/>
<path class="l" d="M1233.8 922.5 C1234.7 921.8 1233.2 922.2 1240 917.7 C1246.8 913.1 1260.4 904.3 1279.3 892.1 C1298.2 880 1342.1 851.4 1365.9 836.4 C1389.7 821.4 1425.9 799.6 1438.2 792.1 C1450.5 784.7 1445.9 787.9 1448 786.8 C1450.1 785.7 1451.2 784.6 1452.1 784.6 C1453.1 784.6 1454.9 785.8 1454.6 786.8 C1454.4 787.7 1452.4 789.4 1450.7 790.9 C1449 792.4 1444.3 795.9 1443.2 796.8"/>
<path class="l" d="M1286.4 891.1 L1366.8 839.6 L1440 795.4"/>
<path class="l" d="M1289.1 894.3 L1368.6 843.4 L1441.8 798.9"/>
<path class="l" d="M1239.1 922.1 L1248.9 923.9 L1290 899.6 L1370.4 847.1 L1373.9 843.9"/>
<path class="l" d="M1373.6 830.7 L1383.8 834.6 L1391.8 832.9 L1442.1 801.6"/>
<path class="l" d="M1372.1 831.4 L1381.1 828.4"/>
<path class="l" d="M1431.1 817.1 L1433.8 823.9 L1442.7 818.9 L1440.4 813.2"/>
<path class="l" d="M1279.3 893.9 L1284.6 891.8 L1290.9 895.7 L1290 898.6"/>
<path class="l" d="M1340 840.9 L1340.9 858.8"/>
<path class="l" d="M1351.6 861.4 L1371.2 863.2 L1371.2 856.1 L1363.2 851.6"/>
<path class="l" d="M1390.9 823.9 L1391.8 827.5"/>
<path class="l" d="M1443.2 796.8 C1443.3 798.2 1443.7 804 1443.6 806.1 C1443.4 808.1 1442.7 809.2 1442.1 810.5 C1441.6 811.8 1441.8 813.5 1440 814.6 C1438.2 815.8 1432.6 816.9 1430.2 818.2 C1427.8 819.6 1425.1 822 1423.9 823.6 C1422.7 825.2 1422.9 826.8 1422.1 828.9 C1421.3 831.1 1426.6 832.2 1418.6 837.9 C1410.5 843.5 1384.1 856.8 1368.6 866.4 C1353 876.1 1330.3 892 1315 902.1 C1299.7 912.3 1275.9 928.1 1266.8 934.3 C1257.7 940.5 1257.8 940.8 1254.3 943.6 C1250.8 946.3 1245.9 949.8 1243.6 952.5 C1241.2 955.2 1239.6 958.6 1238.6 961.4 C1237.6 964.2 1237.5 969.5 1236.8 971.2 C1236.1 973 1234.2 972.8 1233.8 973"/>
<path class="l" d="M1234.6 922.5 C1234.5 923.5 1234.7 927.1 1233.8 929.3 C1232.8 931.5 1230.9 934.5 1228.4 937.3 C1225.8 940.1 1219.7 945.2 1216.8 948 C1213.8 950.8 1210.1 952.7 1208.8 956.1 C1207.4 959.4 1208 968.2 1207.9 970.4"/>
<path class="l" d="M1207.9 970.4 C1207.1 970.6 1203.6 971.1 1202.5 972.1 C1201.4 973.2 1200.2 976 1200.7 977.5 C1201.2 979 1204.3 981.4 1206.1 982 C1207.8 982.5 1211.4 981.2 1212.3 981.1"/>
<path class="l" d="M1215 968.6 L1222.1 968.6 L1225.7 972.1 L1232 980.2 L1232 985.5 L1223 986.4 L1222.1 982.9 L1212.3 981.1"/>
<path class="l" d="M1223 970.4 L1231.1 977.5"/>
<path class="l" d="M1252.5 928.4 L1265 933.8 L1266.8 939.1 L1245.4 937.3"/>
<path class="l" d="M1227.5 939.1 L1247.1 925.7"/>
<path class="l" d="M1238.2 961.4 L1236.8 966.8 L1239.1 968.6"/>
<path class="l" d="M1361.4 870.4 L1361.4 923.9"/>
<path class="l" d="M202.1 786.1 L202.1 835.2"/>
<path class="l" d="M370 789.6 C367.6 788.6 358.8 784.1 354.3 782.5 C349.8 780.9 346.2 779.6 340 778.9 C333.8 778.3 319.9 777.8 313.2 778 C306.5 778.2 301.5 780 295.4 780.4 C289.2 780.8 277.5 779.7 272.1 780.7 C266.8 781.7 264.2 784.2 259.6 787 C255.1 789.8 250.4 792.2 241.8 799.5 C233.2 806.7 211.5 826.7 202.1 835.2 C192.8 843.6 186.7 848.9 179.3 855.7 C171.8 862.5 159.2 873.8 152.5 880.7 C145.8 887.7 140 894.9 134.6 902.1 C129.3 909.4 121.9 920.6 116.8 928.9 C111.7 937.2 103.8 950.5 100.7 957.5 C97.6 964.5 96.8 970 96.2 975.4 C95.7 980.7 96.3 987.9 97.1 993.2 C97.9 998.6 99.7 1006 101.6 1011.1 C103.5 1016.2 106.6 1022.9 109.6 1027.1 C112.7 1031.4 117.9 1036.2 122.1 1039.6 C126.4 1043.1 135.8 1048.4 138.2 1050"/>
<path class="l" d="M240 820.9 L197.1 855.7"/>
<path class="l" d="M181.1 867.3 L164.1 880.7"/>
<path class="l" d="M195.4 861.1 L205.2 861.1"/>
<path class="l" d="M187.3 863.2 L190 861.1"/>
<path class="l" d="M142.7 921.8 C140.7 924.7 133.2 934.7 129.3 941.4 C125.4 948.1 119.2 960 116.8 966.4 C114.4 972.9 113.5 979.2 113.2 984.3 C112.9 989.4 114.1 996.1 115 1000.4 C115.9 1004.6 117.7 1009.6 119.5 1012.9 C121.2 1016.1 125.5 1020.4 126.6 1021.8"/>
<path class="l" d="M148 896.8 L149.8 907.5"/>
<path class="l" d="M139.1 993.2 L137.9 1017.3"/>
<path class="l" d="M220.4 853 C222.8 850.8 242.3 838.5 245.4 837 C248.4 835.4 246.4 835.4 250.7 837.9 C255 840.3 284.5 858.4 288.2 861.1 C292 863.8 290.7 862.5 288.2 864.6 C285.7 866.8 266.2 880.7 263.2 882.5 C260.2 884.3 262.1 884.8 257.9 882.5 C253.7 880.2 225 862.2 221.2 859.3 C217.5 856.3 217.9 855.3 220.4 853Z"/>
<path class="l" d="M303.4 809.3 C304.8 807.7 316.7 799.6 318.6 798.6 C320.4 797.6 318 797.3 322.1 799.5 C326.2 801.6 355.8 817.5 359.6 820 C363.5 822.5 362.1 822.8 360.5 824.5 C359 826.2 346.5 835.8 344.5 837 C342.4 838.1 344 838.3 340 836.1 C336 833.8 307.9 817.3 304.3 814.6 C300.6 812 302 810.9 303.4 809.3Z"/>
<ellipse class="l" cx="351.6" cy="792.3" rx="3" ry="1.8" transform="rotate(-20 351.6 792.3)"/>
<ellipse class="l" cx="180.2" cy="881.6" rx="3" ry="1.8" transform="rotate(-20 180.2 881.6)"/>
<ellipse class="l" cx="232.3" cy="907.9" rx="3" ry="1.8" transform="rotate(-20 232.3 907.9)"/>
<ellipse class="l" cx="159.3" cy="1031.1" rx="3" ry="1.8" transform="rotate(-20 159.3 1031.1)"/>
<path class="l" d="M187.3 869.1 L248.9 895"/>
<path class="l" d="M165 887 L226.6 919.1"/>
<path class="l" d="M254.3 818.2 L269.5 827.1"/>
<path class="l" d="M280.2 827.1 L293.6 819.6"/>
<path class="l" d="M273.9 829.8 C276 831.3 276.6 832.6 286.4 838.8 C296.2 844.9 325.1 861.8 332.9 866.4"/>
<path class="l" d="M344.5 849.5 L346.2 862.9"/>
<path class="l" d="M359.6 866.4 L370 860.2"/>
<path class="l" d="M265.9 888.8 L302.5 862.9"/>
<path class="l" d="M257.9 895.9 L258.8 900.4 L238.2 918.2"/>
<path class="l" d="M232.9 926.2 L234.6 951.2"/>
<path class="l" d="M243.6 953 L341.8 878.9"/>
<path class="l" d="M276.6 952.1 L293.6 940.5"/>
<path class="l" d="M272.1 951.2 C272 951.7 270.5 955 270.7 955.7 C270.9 956.4 264 953.2 273.9 958.4 C283.9 963.6 360.4 1002.6 370 1007.5"/>
<path class="l" d="M162.3 916.4 C165.7 917.9 178.2 923.3 182.9 925.4 C187.5 927.4 184.6 925.4 190 928.9 C195.4 932.5 210.8 943.8 215 946.8"/>
<path class="l" d="M196.2 946.8 L213.2 953"/>
<path class="l" d="M218.6 963.8 L165.9 1006.6"/>
<path class="l" d="M158.8 922.7 C163.6 923 185.5 937.9 189.1 940.5 C192.8 943.1 195.3 940.2 190 945 C184.7 949.8 149.5 977.2 143.6 981.6 C137.6 986 139.9 982.8 139.1 982.5 C138.3 982.2 136.8 980.8 136.4 978.9 C136.1 977.1 135.9 969.3 136.1 966.4 C136.3 963.5 136.9 957.3 138.2 953.9 C139.5 950.6 144.7 941.5 147.1 937.9 C149.5 934.2 153.9 922.4 158.8 922.7Z"/>
<path class="l" d="M194.5 1021.8 C199.4 1017.9 237.9 987.5 243.6 983.4 C249.2 979.3 249.3 980.7 250.7 980.7 C252.1 980.7 247.1 977.9 257.9 983.4 C268.6 988.9 347.4 1030.4 357.9 1036.1 C368.3 1041.7 362 1038.8 362.3 1039.6 C362.7 1040.4 361.5 1043.7 361.4 1044.1"/>
<path class="l" d="M143.6 1028.9 C145.6 1027.5 157.8 1017.9 160.5 1016.4 C163.2 1014.9 164.8 1015.3 166.8 1016.1 C168.8 1016.8 176 1021.4 177.5 1022.7 C179 1024 179.3 1026.2 179.3 1027.1 C179.3 1028.1 179.4 1028.9 177.5 1030.7 C175.6 1032.5 164.9 1041 163.2 1042.3"/>
<path class="l" d="M176.6 1050 L191.8 1037.9"/>
<path class="l" d="M331.1 1050 L347.1 1039.6"/>
<path class="l" d="M351.6 1038.8 L357 1039.6"/>
<path class="l" d="M304.3 1050 L312.3 1045.9"/>
<ellipse class="l" cx="457" cy="848" rx="3" ry="1.8" transform="rotate(-20 457 848)"/>
<path class="l" d="M370 828 L392.3 836.1"/>
<path class="l" d="M370 858.4 L391.4 844.1"/>
<path class="l" d="M482.5 914.6 L503 922.7"/>
<path class="l" d="M464.6 931.6 L470.9 920.9"/>
<path class="l" d="M499.5 933.4 C502.3 932.5 511.5 928.7 516.4 928 C521.3 927.4 526.8 929.2 528.9 929.5"/>
<path class="l" d="M501.2 941.4 C502 942.3 503.3 945.6 505.7 946.8 C508.1 948 512 948.7 515.5 948.6 C519.1 948.4 524.8 947.1 527.1 945.9 C529.5 944.7 529.4 942.9 529.8 941.4 C530.3 939.9 529.8 937.7 529.8 937"/>
<ellipse class="l" cx="515.5" cy="937.9" rx="3.9" ry="2.5" transform="rotate(0 515.5 937.9)"/>
<path class="l" d="M492.3 937.9 C491.1 939.6 486.2 945.4 485.2 948.6 C484.1 951.7 485.9 955.3 486.1 956.6"/>
<path class="l" d="M535.2 930.7 C537 932.1 543.1 936.1 545.9 938.8 C548.7 941.4 551.1 945.4 552.1 946.8"/>
<path class="l" d="M470 948.6 C471.2 950.7 473.6 957.8 477.1 961.1 C480.7 964.3 487 966.6 491.4 968.2 C495.9 969.9 501.8 970.4 503.9 970.9"/>
<path class="l" d="M461.1 947.7 L402.1 991.4"/>
<path class="l" d="M393.2 991.4 C393.2 992.2 392.6 996.4 393.2 997.7 C393.8 998.9 392.9 998.9 398.6 1002.1 C404.2 1005.4 435.8 1022.7 441.4 1025.4 C447.1 1028 446.2 1025 446.8 1025"/>
<path class="l" d="M449.5 1019.1 C458.4 1012.7 505.6 977.7 516.4 970.9 C527.3 964.1 526.4 969.8 530.7 968.2 C535 966.7 545.4 961 548.6 959.3 C551.8 957.6 554 956.2 554.8 955.7"/>
<ellipse class="l" cx="691.1" cy="982.9" rx="3" ry="1.8" transform="rotate(-20 691.1 982.9)"/>
<ellipse class="l" cx="790.2" cy="1044.1" rx="3" ry="1.8" transform="rotate(-20 790.2 1044.1)"/>
<path class="l" d="M698.2 1037.9 C699.7 1036.6 711.6 1026.6 713.4 1025.4 C715.2 1024.1 711.7 1022.9 716.1 1025.4 C720.4 1027.8 753 1047.5 757.1 1050"/>
<path class="l" d="M698.2 1037.9 C698.1 1038.2 697 1040.7 697.3 1041.4 C697.7 1042.1 700.4 1044.1 701.8 1045 C703.1 1045.9 709.8 1049.5 710.7 1050"/>
<path class="l" d="M679.5 1050 L684.8 1047.7"/>
<path class="l" d="M695.5 1046.8 L699.1 1050"/>
<path class="l" d="M173 1053.6 L177.5 1050"/>
<path class="l" d="M275.7 1075 C277.5 1072.6 282 1064.9 286.4 1060.7 C290.9 1056.5 299.8 1051.8 302.5 1050"/>
<path class="l" d="M324.8 1053.6 L328.4 1062.5"/>
<path class="l" d="M340 1061.6 L356.1 1050"/>
<path class="l" d="M313.2 1073.2 C315.6 1072.3 323.2 1068.6 327.5 1067.9 C331.8 1067.1 337.2 1068.6 339.1 1068.8"/>
<path class="l" d="M312.3 1083.9 C314 1085.1 318.1 1090.3 322.1 1091.1 C326.2 1091.8 333.2 1089.9 336.4 1088.4 C339.7 1086.9 340.9 1084.2 341.8 1082.1 C342.7 1080.1 341.8 1076.9 341.8 1075.9"/>
<ellipse class="l" cx="327.5" cy="1078.6" rx="3.6" ry="2.1" transform="rotate(0 327.5 1078.6)"/>
<path class="l" d="M301.6 1081.2 C300.7 1083.5 296.1 1090.6 296.2 1094.6 C296.4 1098.7 298.8 1102.5 302.5 1105.4 C306.2 1108.2 313.1 1110.7 318.6 1111.6 C324.1 1112.5 332.7 1110.9 335.5 1110.7"/>
<path class="l" d="M353.4 1072.3 C354.7 1073.7 359.9 1077.8 361.4 1080.4 C362.9 1082.9 362.2 1086.3 362.3 1087.5"/>
<path class="l" d="M262.3 1091.1 C262.4 1091.7 262.3 1095.2 263.2 1096.4 C264.2 1097.7 264.5 1098.5 270.4 1101.8 C276.2 1105.1 307.2 1122.2 313.2 1125 C319.3 1127.8 321.1 1125.8 322.1 1125.9"/>
<path class="d" d="M158.8 1065.2 L158.8 1149.1 L327.5 1196.4"/>
<path class="d" d="M169.5 1075 L160.5 1139.3"/>
<path class="d" d="M327.5 1171.4 L327.5 1196.4"/>
<path class="d" d="M347.1 1181.2 L327.5 1196.4 L368.6 1238.4"/>
<path class="l" d="M372.7 1076.8 C374.6 1075.4 388.8 1064 391.4 1062.5 C394 1061 397.3 1061.5 398.6 1061.6 C399.8 1061.7 392.7 1056.6 403.9 1063.4 C415.2 1070.2 500.2 1122.4 511.1 1129.5 C522 1136.5 517.9 1129.4 512.9 1133.9 C507.9 1138.5 466.6 1170.6 461.1 1175 C455.5 1179.4 458.4 1177.6 457.5 1177.7 C456.6 1177.8 453.4 1176.2 452.1 1175.9 C450.9 1175.5 446.3 1174.2 445 1174.1 C443.7 1174 439.6 1174.8 438.8 1175 C437.9 1175.2 437.9 1174.5 436.1 1175.9 C434.2 1177.3 421.6 1187.9 420 1189.3"/>
<path class="l" d="M439.6 1148.2 L441.4 1169.6"/>
<path class="l" d="M453 1151.8 L454.8 1171.4"/>
<path class="l" d="M408.4 1169.6 L411.1 1191.1"/>
<path class="l" d="M457.5 1142.9 L475.4 1129.5"/>
<path class="l" d="M485.2 1127.7 L497.7 1132.1"/>
<path class="l" d="M545.9 1086.6 L547.7 1101.8"/>
<path class="l" d="M448.6 1179.5 C450 1180.3 459.4 1185 461.1 1186.6 C462.7 1188.2 462.9 1191.8 462.9 1192.9 C462.9 1193.9 462.8 1194 461.1 1195.5 C459.3 1197.1 449.2 1205 447.7 1206.2"/>
<ellipse class="l" cx="439.6" cy="1192.9" rx="2.7" ry="2.1" transform="rotate(0 439.6 1192.9)"/>
<path class="l" d="M508.4 1191.1 C512.5 1187.7 551 1154.4 557.5 1152.7 C564 1151 584.5 1168.7 587 1170.5 C589.4 1172.4 590.9 1173.3 587 1175 C583 1176.7 545.8 1189.1 539.6 1191.1 C533.5 1193 515.5 1198.1 512.9 1198.2 C510.3 1198.4 508.8 1193.5 508.4 1192.9 C508 1192.3 504.3 1194.4 508.4 1191.1Z"/>
<path class="l" d="M562 1146.4 C565.7 1148.7 577 1156 584.3 1159.8 C591.6 1163.7 597.4 1164.6 605.7 1169.6 C614 1174.7 629.5 1186.8 634.3 1190.2"/>
<path class="l" d="M600.4 1178.6 L617.3 1188.4"/>
<path class="l" d="M642.3 1192.9 L650 1190.2"/>
<path class="l" d="M467.3 1215.2 L485.2 1201.8"/>
<path class="l" d="M478.9 1215.2 L497.7 1203.6"/>
<path class="l" d="M566.4 1133.9 L579.8 1126.8"/>
<path class="l" d="M587.9 1119.6 L604.8 1107.1"/>
<ellipse class="l" cx="602.1" cy="1121.4" rx="3.6" ry="2.5" transform="rotate(0 602.1 1121.4)"/>
<path class="l" d="M589.6 1128.6 L650 1167"/>
<path class="l" d="M603 1217.9 L603 1237.5"/>
<path class="d" d="M439.3 1222.3 L439.6 1310.7"/>
<path class="d" d="M371.8 1242 L439.6 1310.7 L650 1273.2"/>
<path class="d" d="M605.7 1241.1 L650 1270.5"/>
<path class="l" d="M684.8 1134.8 L725.9 1104.5"/>
<path class="l" d="M755.4 1092 L780.4 1071.4"/>
<path class="l" d="M741.1 1075 L743.8 1091.1"/>
<path class="l" d="M766.1 1057.1 L780.4 1062.5"/>
<path class="l" d="M733 1102.7 L750 1107.1"/>
<path class="l" d="M668.8 1128.6 L675 1137.5"/>
<path class="l" d="M677.7 1142.9 C677.8 1143.9 680.2 1151.2 678.6 1153.6 C677 1156 663.3 1165.6 661.6 1167"/>
<ellipse class="l" cx="655.4" cy="1155.4" rx="3" ry="1.8" transform="rotate(-20 655.4 1155.4)"/>
<path class="l" d="M657.1 1175 L657.1 1183"/>
<path class="l" d="M700 1050 L725 1065.7"/>
<path class="l" d="M709.8 1050 C712.3 1051.3 735.5 1065.7 739.3 1066.1 C743.1 1066.4 753.9 1055.8 755.4 1054.5 C756.8 1053.1 756.2 1050.4 756.2 1050"/>
<path class="l" d="M674.1 1054.5 L683 1050"/>
<path class="d" d="M791.1 1103.6 L791.1 1182.1"/>
<path class="d" d="M752.7 1139.3 L791.1 1163.4"/>
<path class="d" d="M791.1 1162.1 L654.5 1272.3"/>
<path class="d" d="M654.5 1198.2 L654.5 1272.3"/>
<path class="l" d="M785.7 1158.9 L791.1 1162.5 L785.7 1167.9"/>
<ellipse class="l" cx="791" cy="1206.6" rx="18.2" ry="9.6" transform="rotate(0 791 1206.6)"/>
<path class="l" d="M785.2 1203 C785.2 1201 784.8 1190.5 785 1188 C785.2 1185.5 786.4 1185.2 787 1184.5 C787.6 1183.8 789 1182.7 789.7 1182.7 C790.4 1182.7 791.8 1183.8 792.5 1184.5 C793.2 1185.2 794.6 1185.5 795 1188 C795.4 1190.5 795.2 1201 795.2 1203"/>
<path class="l" d="M785 1189.5 C785.8 1189.8 788.3 1191.5 790 1191.5 C791.7 1191.5 794.2 1189.8 795 1189.5"/>
<path class="l" d="M785 1195 C785.8 1195.3 788.3 1197 790 1197 C791.7 1197 794.2 1195.3 795.1 1195"/>
<path class="l" d="M785.1 1200.5 C785.9 1200.8 788.3 1202.5 790 1202.5 C791.7 1202.5 794.3 1200.8 795.2 1200.5"/>
<path class="l" d="M785.5 1204 L787.5 1208 L790 1205 L792.5 1208 L795 1204"/>
<path class="l" d="M790 1205 L790 1210"/>
<polygon class="f" points="819.3,1162.5 823.4,1175.1 836.7,1175.1 825.9,1183.0 830.1,1195.6 819.3,1187.8 808.5,1195.6 812.7,1183.0 801.9,1175.1 815.2,1175.1"/>
<path class="l" d="M301.6 929.8 C301.9 929.2 295.2 934.5 304 928 C312.8 921.5 381.2 871.4 390 865 C398.8 858.6 391.8 863.8 392.3 863.8 C392.8 863.7 387.1 860.2 395 864.5 C402.9 868.8 463.2 902.2 471 906.5 C478.8 910.8 472.3 907 472.7 907.5 C473.1 908 474.5 910.6 474.5 911.1 C474.5 911.6 481.9 905.9 473 912.5 C464.1 919.1 394.5 970.5 385.5 977 C376.5 983.5 383.8 978 383.4 978 C382.9 978 388.9 981.6 381 977.5 C373.1 973.4 312.3 941.3 304.3 937 C296.3 932.7 301 935 300.7 934.3 C300.4 933.6 301.3 930.4 301.6 929.8Z"/>
<path class="l" d="M248.9 993.2 C249.5 993.1 246.4 989.6 252 993.5 C257.6 997.4 299.1 1027.9 304.5 1032 C309.9 1036.1 306.1 1033.8 306.1 1034.3 C306.1 1034.8 309.3 1032.8 304.5 1037 C299.7 1041.2 262.8 1072.4 258 1076.5 C253.2 1080.6 256.6 1077.7 256.1 1077.7 C255.7 1077.8 259.1 1081 253.5 1077 C247.9 1073 205.9 1042.2 200.5 1038 C195.1 1033.8 199.3 1035.9 199.4 1035.4 C199.5 1035 196.3 1037.5 201 1033.5 C205.7 1029.5 241.2 999 246 995 C250.8 991 248.3 993.4 248.9 993.2Z"/>
<path class="l" d="M464.6 1021.8 C473.4 1014.9 544.4 963.1 553.5 956.5 C562.6 949.9 555.2 955.7 555.7 955.7 C556.2 955.7 553.1 953.7 558 956.5 C562.9 959.3 599.7 981.1 604.5 984 C609.3 986.9 605.4 984.6 605.7 985.2 C606 985.9 607.5 989.7 607.5 990.5 C607.5 991.3 610.4 985.7 606 993 C601.6 1000.3 568.1 1056.2 563.5 1063.5 C558.9 1070.8 561.5 1065.3 560 1066.5 C558.5 1067.7 549.4 1074.1 548 1075 C546.6 1075.9 546.4 1075.9 545.9 1075.9 C545.4 1075.9 551 1079.8 543 1075 C535 1070.2 473.8 1032.5 466 1027.5 C458.2 1022.5 465.6 1026 465.5 1025.4 C465.4 1024.8 455.8 1028.7 464.6 1021.8Z"/>
<path class="l" d="M616.4 992.3 C618 992.8 630.5 997 632.5 997.7 C634.5 998.4 635.5 999.1 636 999.5 C636.5 999.9 637.8 1001 637.9 1001.5 C638 1002 640.1 999.6 637.3 1004.5 C634.5 1009.4 615.1 1041.3 610 1050 C604.9 1058.7 589.1 1086.4 586.1 1091.1 C583.1 1095.8 583.2 1094.7 580 1097 C576.8 1099.3 556.9 1112.4 553.9 1114.3 C550.9 1116.2 551.2 1116.3 550.4 1116.1 C549.6 1115.9 557.1 1119.1 545.9 1112.5 C534.6 1105.9 455.5 1060.5 437.9 1050 C420.3 1039.5 376.8 1011.8 370 1007.5"/>
<path class="l" d="M337.3 1121.4 C337.4 1120.9 334.6 1123.5 339.5 1119.5 C344.4 1115.5 381.6 1085.4 386.5 1081.5 C391.4 1077.6 388.3 1080.5 388.8 1080.4 C389.2 1080.3 384 1077.6 391 1080.8 C398 1084 451.6 1109.1 458.5 1112.4 C465.4 1115.7 459.9 1112.9 460.2 1113.4 C460.5 1113.9 461.2 1116.4 461.1 1117 C461 1117.6 464.4 1115 459.5 1119 C454.6 1123 417.4 1152.6 412.5 1156.5 C407.6 1160.4 410.7 1157.9 410.2 1158 C409.7 1158.1 414.6 1160.7 407.5 1157.5 C400.4 1154.3 346.4 1129.8 339.5 1126.5 C332.6 1123.2 338.4 1125.5 338.2 1125 C338 1124.5 337.2 1122 337.3 1121.4Z"/>
<path class="l" d="M370 791.4 C376.7 795.2 408.7 813.8 420 820.1 C431.3 826.4 449.3 836 455 839 C460.7 842 461.2 841.9 462.9 842.9 C464.6 843.9 466.1 845.4 467.5 846.5 C468.9 847.6 458.6 842.3 473.6 850.9 C488.6 859.5 551.4 894.7 580 910.8 C608.6 926.9 673 962.8 687.9 971.4 C702.8 980 690.6 973.9 692 975 C693.4 976.1 696.3 978 698.6 979.5 C700.9 981 697.8 979.5 709.3 986.2 C720.8 992.9 772.9 1023 785 1030 C797.1 1037 796.9 1036.9 800 1039 C803.1 1041.1 806.7 1043.9 808.5 1046 C810.3 1048.1 812.5 1052.1 813.5 1055 C814.5 1057.9 816 1064.7 816.3 1067.9 C816.6 1071.1 816.1 1076.7 815.5 1079 C814.9 1081.3 813.3 1084.1 812 1085.5 C810.7 1086.9 807.1 1088.3 805.7 1089.3 C804.3 1090.3 804 1091 801.8 1092.9 C799.6 1094.8 795.3 1098.8 789.3 1103.6 C783.3 1108.4 766.2 1121.9 757.1 1128.6 C748 1135.3 730.9 1146.9 721.4 1153.6 C711.9 1160.3 695.2 1172.8 685.7 1178.6 C676.2 1184.4 654.8 1194.8 650 1197.3"/>
<path class="l" d="M403 838.8 C405.3 839.8 414.9 844.4 420 846.9 C425.1 849.4 434.3 853.8 441.4 857.5 C448.5 861.2 457.8 866 473.6 875 C489.4 884 536.4 911.2 560 924.8 C583.6 938.4 630.1 964.5 650.4 976.8 C670.7 989.1 703.8 1011.9 712 1017.3"/>
<path class="l" d="M634.7 1091.8 C636.7 1089.7 654.1 1077.7 656.5 1076 C658.9 1074.3 657.6 1074.8 658.6 1074.6 C659.6 1074.4 662.1 1071.8 666.3 1073.7 C670.5 1075.6 696.9 1091.4 700.5 1093.5 C704.1 1095.6 702.3 1094.2 702.6 1094.7 C702.9 1095.2 705.7 1096.6 703.6 1098.5 C701.5 1100.4 683.9 1112.2 681.5 1113.8 C679.1 1115.4 680.5 1114.6 679.7 1114.8 C678.9 1115 678 1117.4 673.9 1115.7 C669.8 1114 642.2 1099.4 638.5 1097.5 C634.8 1095.6 637 1097.2 636.6 1096.6 C636.2 1096 632.7 1093.9 634.7 1091.8Z"/>
<path class="l" d="M564.6 1129.5 C575.1 1121.5 643.6 1069.4 655 1061 C666.4 1052.6 660.9 1058.1 662.5 1057.8 C664.1 1057.5 665.8 1057.1 668.5 1058.5 C671.2 1059.9 679.3 1065.9 685.7 1069.6 C692.1 1073.3 717.1 1087 723.2 1090.2 C729.3 1093.4 736.6 1096.5 738.4 1097.3"/>
<path class="l" d="M618.2 1102.7 L664.3 1125.3"/>
<path class="l" d="M468.2 1222.3 C471.3 1223 483.5 1227 491.4 1227.7 C499.3 1228.4 518.3 1228.3 527.1 1227.7 C535.9 1227.1 547.8 1225.6 557.5 1223.2 C567.2 1220.8 590.3 1213.4 600 1210 C609.7 1206.6 625.9 1199.2 629.9 1197.5"/>
<path class="l" d="M643.3 1192.3 C644.1 1192 648.7 1190 650 1189.5 C651.3 1189 653.6 1188.5 654.8 1188.4 C656 1188.3 649.3 1196.9 660.5 1188.4 C671.7 1179.9 739.9 1124.2 750.4 1115.7"/>
<path class="l" d="M128 1043 C129.4 1043.9 134.2 1047.2 138.2 1050 C142.2 1052.8 150 1058.8 157.9 1064.3 C165.8 1069.8 184.7 1083 197.1 1091.1 C209.5 1099.2 236.4 1116.4 250.7 1125 C265 1133.6 288.4 1146.9 304.3 1155.4 C320.2 1163.9 352.1 1179.9 370 1188.8 C387.9 1197.7 424.5 1216.2 438.8 1222.3 C453 1228.4 469.6 1232.9 477.1 1234.8 C484.6 1236.7 489.5 1236.4 495 1236.6 C500.5 1236.8 511.1 1237.1 518.2 1236.6 C525.3 1236.1 537.4 1235.7 548.6 1233 C559.8 1230.3 588.6 1220.9 602.1 1216.1 C615.6 1211.3 638.9 1202.3 650 1197.3 C661.1 1192.3 680.9 1181.1 685.7 1178.6"/>
</svg>
</body></html>
